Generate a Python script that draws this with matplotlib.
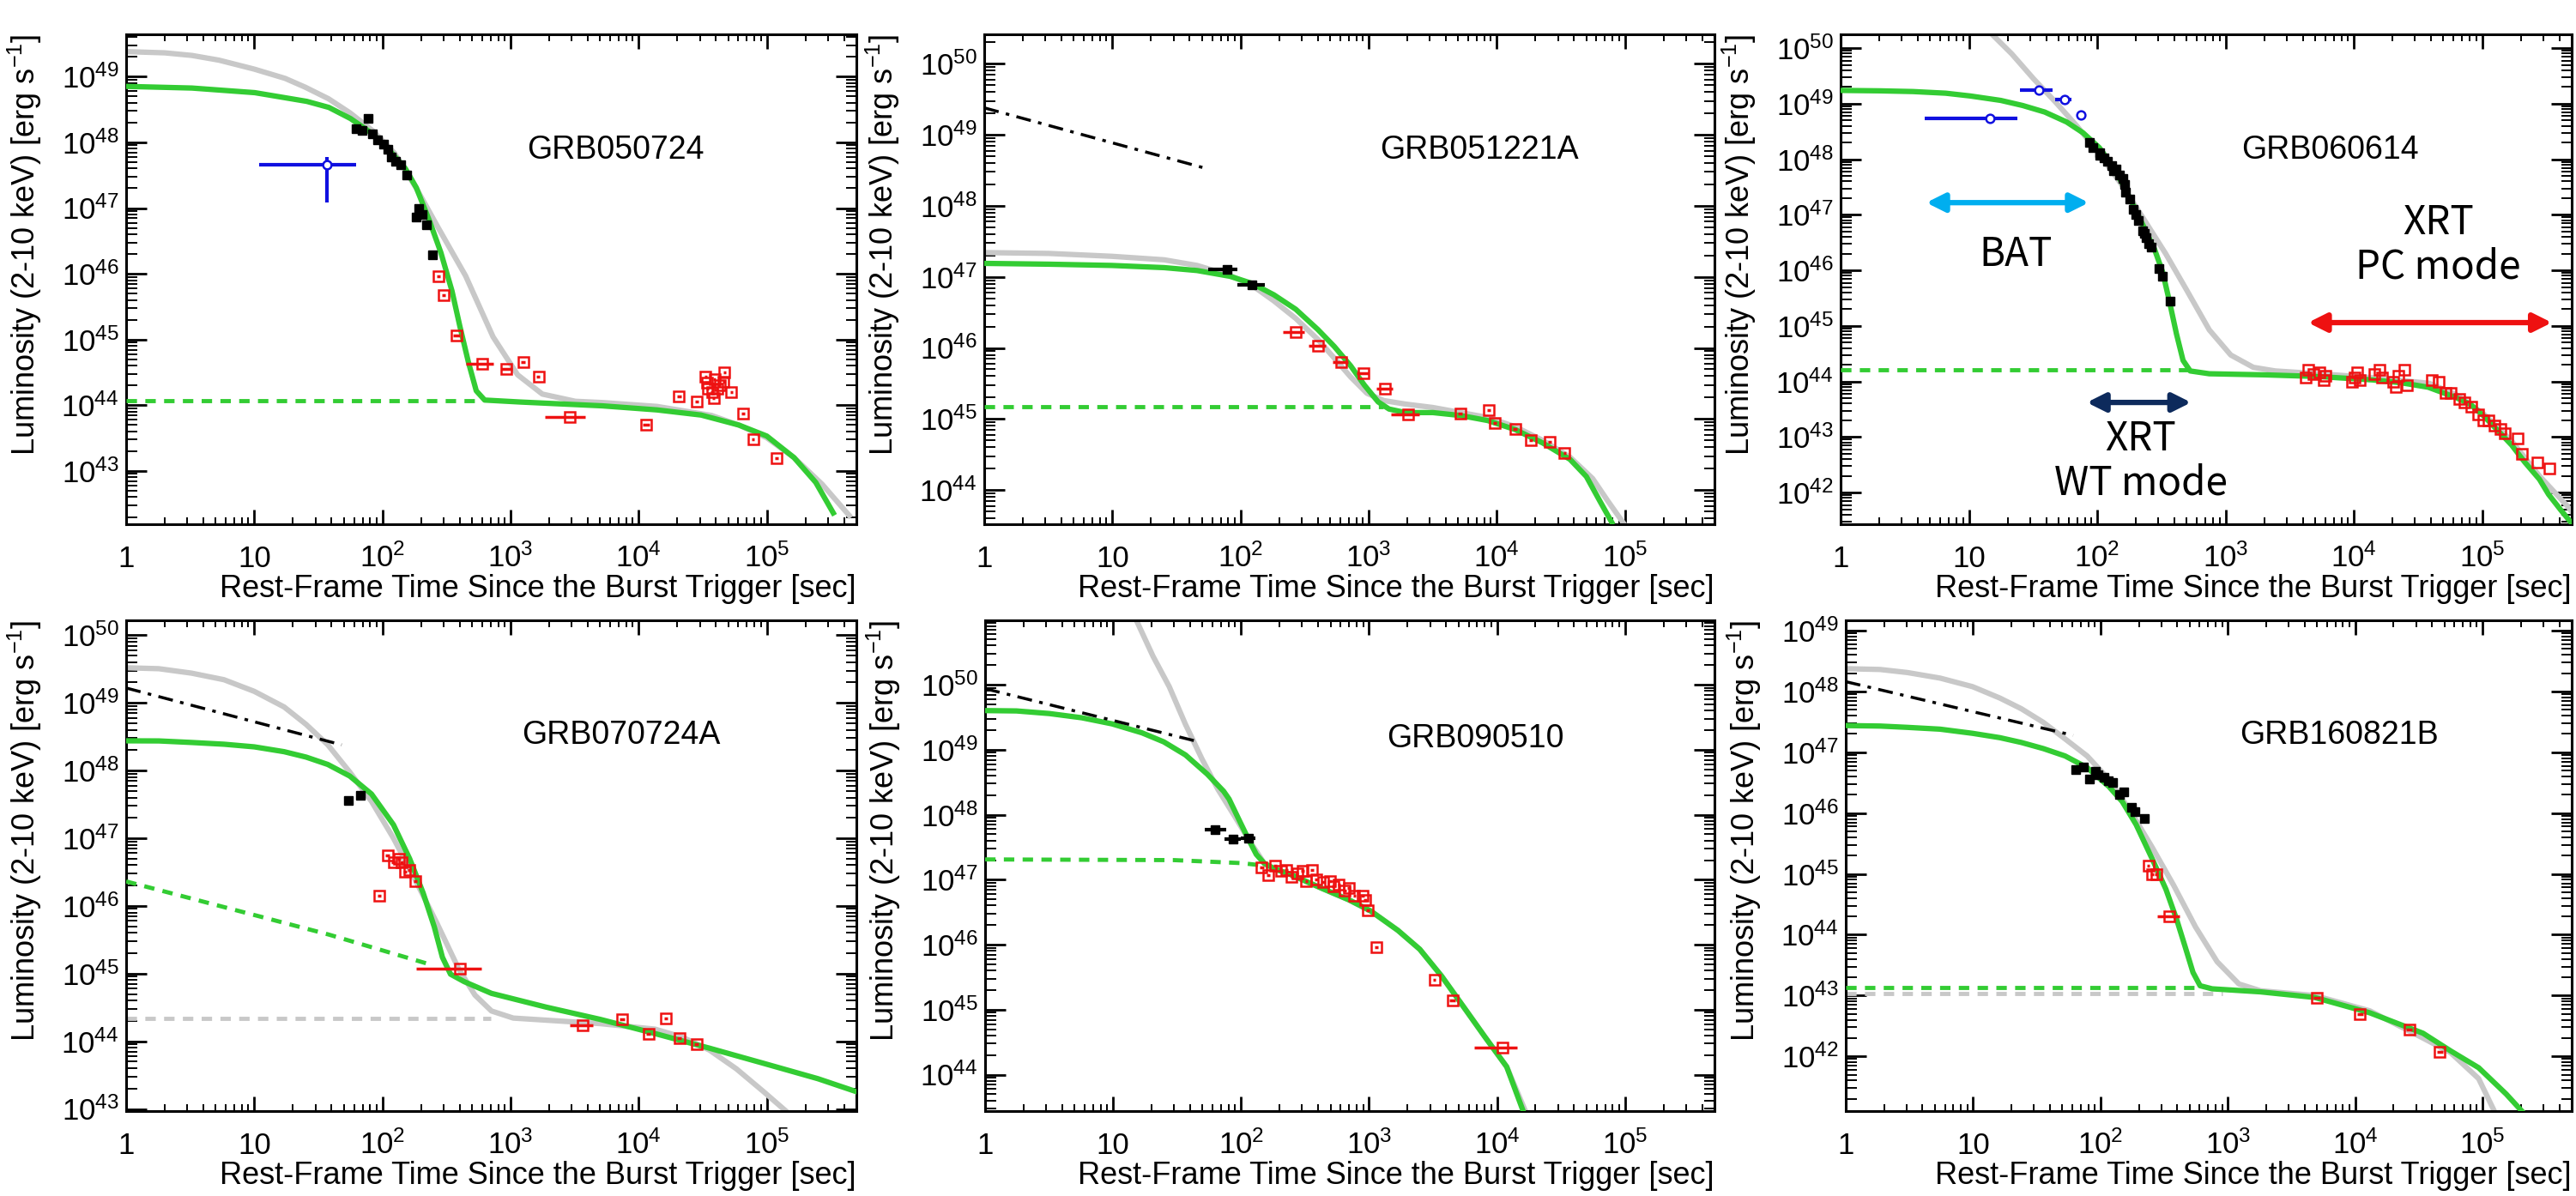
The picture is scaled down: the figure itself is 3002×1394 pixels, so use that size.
import matplotlib
matplotlib.use('Agg')
import matplotlib.pyplot as plt
from matplotlib.ticker import FixedLocator, LogLocator, NullFormatter

plt.rcParams['font.family'] = ['Liberation Sans', 'DejaVu Sans']
plt.rcParams['mathtext.default'] = 'regular'

GRAY = '#c8c8c8'
GREEN = '#33cc33'
RED = '#ee1111'
BLUE = '#1010e0'

x_ticks = [1, 10, 100, 1e3, 1e4, 1e5]
x_ticklabels = ['1', '10', '$10^{2}$', '$10^{3}$', '$10^{4}$', '$10^{5}$']

# ---------------- GRB050724 ----------------
p1_gray_t = [1, 2, 3.26, 5.3, 10, 17.4, 25, 38, 56, 84, 124, 184, 273, 446, 730, 1137, 1770, 3200, 5200, 1.39e4,
             3.7e4, 6.05e4, 1e5, 1.63e5, 2.7e5, 4.4e5]
p1_gray_L = [2.4e49, 2.3e49, 2.1e49, 1.78e49, 1.3e49, 9.4e48, 6.9e48, 4.6e48, 2.8e48, 1.5e48, 6.9e47, 2.0e47, 5.0e46,
             9.3e45, 1.1e45, 2.9e44, 1.48e44, 1.15e44, 1.1e44, 9.6e43, 7.0e43, 5.0e43, 3.2e43, 1.6e43, 6.3e42, 2.1e42]
p1_green_t = [1, 3.26, 10.1, 25.7, 38.2, 56.4, 84.1, 112, 151, 184, 235, 286, 349, 402, 468, 540, 628, 1194, 5200,
              1.39e4, 3.07e4, 6.05e4, 1e5, 1.63e5, 2.41e5, 3.3e5]
p1_green_L = [7.1e48, 6.7e48, 5.7e48, 4.2e48, 3.4e48, 2.3e48, 1.34e48, 7.8e47, 4.0e47, 2.04e47, 6.1e46, 2.1e46, 5.5e45,
              1.6e45, 4.6e44, 1.66e44, 1.2e44, 1.12e44, 9.8e43, 8.5e43, 7.1e43, 5.0e43, 3.4e43, 1.6e43, 6.7e42, 2.3e42]
p1_plateau_t = [1, 600]
p1_plateau_L = [1.17e44, 1.17e44]
p1_bat_t = [62, 69, 77, 84, 92, 102, 110, 118, 127, 140, 154, 184, 193, 203, 220, 247]
p1_bat_L = [1.6e48, 1.5e48, 2.3e48, 1.35e48, 1.1e48, 9.5e47, 7.8e47, 6.0e47, 5.2e47, 4.5e47, 3.2e47, 7.4e46, 9.8e46,
            7.9e46, 5.5e46, 1.95e46]
p1_blue_t = [37]
p1_blue_L = [4.5e47]
p1_blue_tlo = [10.9]
p1_blue_thi = [62]
p1_blue_Llo = [1.2e47]
p1_blue_Lhi = [6.0e47]
p1_red_t = [273, 301, 377, 600, 933, 1254, 1652, 2890, 1.15e4, 2.07e4, 2.84e4, 3.32e4, 3.4e4, 3.45e4, 3.74e4, 3.9e4,
            4.1e4, 3.85e4, 4.6e4, 4.67e4, 4.3e4, 5.3e4, 6.55e4, 7.8e4, 1.19e5]
p1_red_L = [9.3e45, 4.8e45, 1.15e45, 4.3e44, 3.6e44, 4.6e44, 2.7e44, 6.6e43, 5.0e43, 1.35e44, 1.15e44, 2.7e44, 2.2e44,
            1.8e44, 1.6e44, 2.5e44, 1.8e44, 1.3e44, 2.3e44, 3.2e44, 2.0e44, 1.6e44, 7.4e43, 3.0e43, 1.55e43]
p1_red_tlo = [265, 292, 355, 450, 840, 1200, 1600, 1850, 1.08e4, 2.0e4, 2.75e4, 3.25e4, 3.3e4, 3.35e4, 3.65e4, 3.8e4,
              4.0e4, 3.75e4, 4.5e4, 4.55e4, 4.2e4, 5.15e4, 6.35e4, 7.6e4, 1.16e5]
p1_red_thi = [281, 310, 400, 730, 1030, 1310, 1700, 3800, 1.22e4, 2.14e4, 2.93e4, 3.4e4, 3.5e4, 3.55e4, 3.83e4, 4.0e4,
              4.2e4, 3.95e4, 4.7e4, 4.8e4, 4.4e4, 5.45e4, 6.75e4, 8.0e4, 1.22e5]

# ---------------- GRB051221A ----------------
p2_gray_t = [1, 3.2, 9.9, 25.4, 45.8, 82.8, 123, 182, 270, 401, 539, 724, 970, 1306, 1940, 3175, 8510, 1.39e4, 2.28e4,
             3.73e4, 5.6e4, 7.4e4, 1.0e5]
p2_gray_L = [2.2e47, 2.14e47, 1.95e47, 1.74e47, 1.45e47, 1.05e47, 7.6e46, 4.6e46, 2.6e46, 1.32e46, 7.2e45, 3.9e45,
             2.3e45, 1.82e45, 1.62e45, 1.45e45, 1.05e45, 7.8e44, 5.0e44, 2.9e44, 1.45e44, 6.9e43, 3.2e43]
p2_green_t = [1, 3.2, 9.9, 25.4, 45.8, 82.8, 123, 182, 270, 401, 539, 724, 926, 1186, 1443, 1940, 3175, 5200, 8510,
              1.39e4, 2.28e4, 3.73e4, 5.0e4, 6.4e4, 7.9e4]
p2_green_L = [1.55e47, 1.51e47, 1.45e47, 1.35e47, 1.23e47, 1.02e47, 8.1e46, 5.6e46, 3.5e46, 1.82e46, 1.05e46, 5.6e45,
              3.0e45, 1.74e45, 1.38e45, 1.23e45, 1.23e45, 1.12e45, 9.5e44, 7.1e44, 4.6e44, 2.7e44, 1.55e44, 6.9e43,
              3.5e43]
p2_plateau_t = [1, 1300]
p2_plateau_L = [1.5e45, 1.5e45]
p2_ext_t = [1, 56]
p2_ext_L = [2.4e49, 3.3e48]
p2_bat_t = [78, 123]
p2_bat_L = [1.26e47, 7.8e46]
p2_bat_tlo = [56, 95]
p2_bat_thi = [94, 155]
p2_red_t = [270, 401, 607, 910, 1334, 2037, 5200, 8700, 9670, 1.39e4, 1.84e4, 2.57e4, 3.38e4]
p2_red_L = [1.66e46, 1.07e46, 6.3e45, 4.4e45, 2.7e45, 1.15e45, 1.2e45, 1.35e45, 8.7e44, 7.2e44, 5.0e44, 4.7e44, 3.3e44]
p2_red_tlo = [213, 340, 520, 810, 1150, 1500, 5000, 8400, 9300, 1.34e4, 1.78e4, 2.5e4, 3.3e4]
p2_red_thi = [317, 460, 690, 1000, 1550, 2500, 5400, 9000, 1.0e4, 1.44e4, 1.9e4, 2.65e4, 3.46e4]

# ---------------- GRB060614 ----------------
p3_gray_t = [15.3, 21.6, 32, 47.4, 70, 104, 155, 230, 342, 505, 748, 1100, 1650, 2450, 5370, 1.44e4, 3.87e4, 6.3e4,
             1.03e5, 1.7e5, 2.8e5, 4.6e5, 5.5e5]
p3_gray_L = [1.74e50, 7.9e49, 2.8e49, 1.07e49, 3.9e48, 1.26e48, 3.5e47, 8.5e46, 2.0e46, 4.2e45, 8.5e44, 3.0e44, 1.8e44,
             1.55e44, 1.38e44, 1.17e44, 9.3e43, 5.8e43, 2.6e43, 8.5e42, 2.0e42, 5.8e41, 3.5e41]
p3_green_t = [1, 2.03, 3.67, 6.6, 10.3, 17.7, 26.3, 39, 57.8, 77.6, 104, 127, 155, 188, 230, 280, 324, 368, 415, 467,
              531, 748, 2000, 5300, 1.4e4, 2.34e4, 3.8e4, 6.2e4, 8.1e4, 1.03e5, 1.3e5, 1.7e5, 2.16e5, 2.8e5, 3.3e5,
              4.1e5, 5e5]
p3_green_L = [1.74e49, 1.71e49, 1.66e49, 1.55e49, 1.38e49, 1.15e49, 9.3e48, 7.1e48, 4.7e48, 3.0e48, 1.62e48, 8.5e47,
              3.9e47, 1.62e47, 6.2e46, 2.4e46, 9.3e45, 2.6e45, 7.2e44, 2.4e44, 1.55e44, 1.38e44, 1.32e44, 1.23e44,
              1.07e44, 9.5e43, 7.9e43, 5.2e43, 3.9e43, 2.4e43, 1.38e43, 7.2e42, 3.5e42, 1.74e42, 9.3e41, 4.9e41,
              2.8e41]
p3_plateau_t = [1, 530]
p3_plateau_L = [1.6e44, 1.6e44]
p3_blue_t = [14.6, 35.3, 56, 74.7]
p3_blue_L = [5.5e48, 1.74e49, 1.2e49, 6.3e48]
p3_blue_tlo = [4.5, 25, 47, 71]
p3_blue_thi = [23.8, 45, 63, 78]
p3_blue_Llo = [5.5e48, 1.74e49, 1.2e49, 6.3e48]
p3_blue_Lhi = [5.5e48, 1.74e49, 1.2e49, 6.3e48]
p3_bat_t = [87.5, 93, 104, 113, 121, 129, 140, 150, 158, 167, 180, 192, 208, 225, 241, 253, 265, 302, 324, 368,
            104, 133, 163, 200, 232]
p3_bat_L = [2.0e48, 1.6e48, 1.3e48, 1.07e48, 9.3e47, 7.6e47, 6.8e47, 5.2e47, 4.6e47, 2.6e47, 1.9e47, 1.26e47, 7.9e46,
            5.2e46, 3.9e46, 3.0e46, 2.6e46, 1.07e46, 7.9e45, 2.8e45, 1.17e48, 6.2e47, 3.5e47, 1.0e47, 4.6e46]
p3_red_t = [4200, 4400, 4860, 5370, 5800, 6030, 9690, 1.02e4, 1.07e4, 1.12e4, 1.44e4, 1.58e4, 1.66e4, 2.03e4, 2.13e4,
            2.24e4, 2.47e4, 2.6e4, 4.04e4, 4.59e4, 5.17e4, 5.7e4, 6.6e4, 7.3e4, 8.3e4, 9.3e4, 1.03e5, 1.13e5, 1.25e5,
            1.4e5, 1.5e5, 1.9e5, 2.04e5, 2.7e5, 3.36e5]
p3_red_L = [1.17e44, 1.62e44, 1.38e44, 1.48e44, 1.07e44, 1.26e44, 1.0e44, 1.17e44, 1.48e44, 1.07e44, 1.38e44, 1.62e44,
            1.17e44, 1.0e44, 7.9e43, 1.26e44, 1.62e44, 8.5e43, 1.07e44, 1.0e44, 6.2e43, 6.2e43, 4.9e43, 4.2e43,
            3.5e43, 2.6e43, 2.0e43, 2.0e43, 1.62e43, 1.38e43, 1.17e43, 9.3e42, 4.9e42, 3.5e42, 2.7e42]

# ---------------- GRB070724A ----------------
p4_gray_t = [1, 1.8, 3.24, 5.8, 10, 17.1, 25.4, 37.5, 55.6, 82.2, 122, 180, 267, 394, 528, 710, 1050, 1890, 5040,
             1.34e4, 2.19e4, 3.57e4, 5.8e4, 9.5e4, 1.41e5]
p4_gray_L = [3.3e49, 3.2e49, 2.75e49, 2.2e49, 1.48e49, 8.7e48, 4.8e48, 2.4e48, 9.5e47, 3.5e47, 1.0e47, 2.45e46,
             5.5e45, 1.17e45, 4.8e44, 2.8e44, 2.2e44, 2.05e44, 1.82e44, 1.51e44, 1.15e44, 7.4e43, 3.9e43, 1.78e43,
             9.3e42]
p4_green_t = [1, 1.8, 3.24, 5.8, 10, 17.1, 25.4, 37.5, 55.6, 82.2, 122, 163, 208, 254, 294, 340, 435, 710, 1890, 5040,
              1.34e4, 3.57e4, 9.5e4, 2.5e5, 5e5]
p4_green_L = [2.75e48, 2.74e48, 2.6e48, 2.45e48, 2.24e48, 1.9e48, 1.58e48, 1.23e48, 8.3e47, 4.5e47, 1.58e47, 5.0e46,
              1.55e46, 4.9e45, 1.74e45, 9.8e44, 7.6e44, 5.1e44, 3.2e44, 2.1e44, 1.3e44, 7.9e43, 4.7e43, 2.8e43,
              1.8e43]
p4_plateau_t = [1, 37.6, 240]
p4_plateau_L = [2.3e46, 3.8e45, 1.35e45]
p4_grayplat_t = [1, 700]
p4_grayplat_L = [2.2e44, 2.2e44]
p4_ext_t = [1, 48]
p4_ext_L = [1.66e49, 2.4e48]
p4_bat_t = [54, 67.6]
p4_bat_L = [3.6e47, 4.3e47]
p4_red_t = [110, 122, 134, 141, 151, 163, 180, 95, 402, 3680, 7450, 1.19e4, 1.63e4, 2.08e4, 2.82e4]
p4_red_L = [5.6e46, 4.4e46, 5.0e46, 4.4e46, 3.2e46, 3.4e46, 2.3e46, 1.4e46, 1.17e45, 1.74e44, 2.1e44, 1.3e44, 2.2e44,
            1.1e44, 9.1e43]
p4_red_tlo = [106, 118, 130, 137, 146, 158, 174, 92, 184, 2900, 7100, 1.14e4, 1.57e4, 2.0e4, 2.72e4]
p4_red_thi = [114, 126, 138, 145, 156, 168, 186, 98, 594, 4400, 7800, 1.24e4, 1.69e4, 2.16e4, 2.92e4]

# ---------------- GRB090510 ----------------
p5_gray_t = [14.5, 20.5, 27.5, 36.8, 49.5, 66, 89, 119, 152, 185, 237, 425, 695, 1030, 1680, 2490, 3680, 5450, 8050,
             1.19e4, 1.7e4]
p5_gray_L = [1.2e51, 2.75e50, 9.3e49, 2.45e49, 7.2e48, 2.45e48, 9.5e47, 3.7e47, 1.78e47, 1.45e47, 1.23e47, 7.4e46,
             4.9e46, 3.3e46, 1.66e46, 8.5e45, 3.3e45, 1.12e45, 3.8e44, 1.32e44, 2.5e43]
p5_green_t = [1, 1.76, 3.18, 5.7, 9.8, 16.8, 24.9, 36.8, 54.5, 73, 80.6, 98, 113.5, 131.5, 152, 185, 237, 425, 695,
              1030, 1680, 2490, 3680, 5450, 8050, 1.19e4, 1.6e4]
p5_green_L = [4.0e49, 3.95e49, 3.6e49, 3.1e49, 2.5e49, 1.82e49, 1.32e49, 8.3e48, 4.2e48, 2.3e48, 1.74e48, 7.8e47,
              4.3e47, 2.45e47, 1.78e47, 1.45e47, 1.23e47, 7.4e46, 4.9e46, 3.3e46, 1.66e46, 8.5e45, 3.3e45, 1.12e45,
              3.8e44, 1.32e44, 2.75e43]
p5_plateau_t = [1, 30, 100, 150]
p5_plateau_L = [2.05e47, 2.0e47, 1.8e47, 1.65e47]
p5_ext_t = [1, 47]
p5_ext_L = [8.7e49, 1.32e49]
p5_bat_t = [63, 87, 113.5]
p5_bat_L = [5.8e47, 4.2e47, 4.4e47]
p5_bat_tlo = [52, 74, 100]
p5_bat_thi = [76, 100, 130]
p5_red_t = [145, 163, 185, 205, 225, 249, 274, 303, 324, 357, 386, 439, 494, 529, 583, 644, 697, 768, 889, 933, 980,
            1135, 3240, 4480, 1.11e4]
p5_red_L = [1.55e47, 1.17e47, 1.66e47, 1.35e47, 1.41e47, 1.1e47, 1.26e47, 1.38e47, 9.5e46, 1.41e47, 1.02e47, 9.1e46,
            9.5e46, 7.9e46, 8.5e46, 6.9e46, 7.4e46, 5.6e46, 5.6e46, 4.9e46, 3.4e46, 9.1e45, 2.9e45, 1.38e45, 2.6e44]
p5_red_tlo = [140, 158, 180, 199, 219, 242, 266, 294, 315, 347, 375, 427, 480, 514, 567, 626, 678, 747, 864, 907, 953,
              1100, 3150, 4250, 6600]
p5_red_thi = [150, 168, 190, 211, 231, 256, 282, 312, 333, 367, 397, 451, 508, 544, 599, 662, 716, 789, 914, 959,
              1007, 1170, 3330, 4720, 1.43e4]

# ---------------- GRB160821B ----------------
p6_gray_t = [1, 1.86, 3.04, 5.5, 9.9, 16.2, 23.9, 35.6, 52.7, 78.5, 116, 172, 254, 375, 556, 823, 1220, 1800, 4800,
             1.3e4, 3.4e4, 5.6e4, 9.3e4, 1.24e5]
p6_gray_L = [2.37e48, 2.3e48, 2.05e48, 1.66e48, 1.2e48, 7.8e47, 5.2e47, 3.1e47, 1.66e47, 8.7e46, 3.6e46, 1.07e46,
             2.75e45, 6.5e44, 1.35e44, 3.6e43, 1.55e43, 1.2e43, 1.0e43, 5.6e42, 2.0e42, 1.15e42, 4.3e41, 1.23e41]
p6_green_t = [1, 1.86, 3.04, 5.5, 9.9, 16.2, 23.9, 35.6, 52.7, 78.5, 116, 148, 190, 254, 326, 396, 460, 532, 605, 752,
              1800, 4800, 1.3e4, 3.4e4, 5.6e4, 9.3e4, 1.53e5, 2.05e5]
p6_green_L = [2.75e47, 2.7e47, 2.57e47, 2.4e47, 2.05e47, 1.74e47, 1.45e47, 1.15e47, 8.7e46, 5.6e46, 2.75e46, 1.55e46,
              6.5e45, 1.78e45, 5.6e44, 1.78e44, 6.5e43, 2.4e43, 1.45e43, 1.29e43, 1.15e43, 9.3e42, 5.2e42, 2.4e42,
              1.23e42, 6.5e41, 2.4e41, 1.23e41]
p6_plateau_t = [1, 600]
p6_plateau_L = [1.35e43, 1.35e43]
p6_grayplat_t = [1, 900]
p6_grayplat_L = [1.07e43, 1.07e43]
p6_ext_t = [1, 61]
p6_ext_L = [1.45e48, 1.9e47]
p6_bat_t = [64, 73, 82, 90.6, 95, 107, 116, 125, 141, 153, 175, 186, 220]
p6_bat_L = [5.2e46, 5.8e46, 3.6e46, 4.9e46, 4.3e46, 3.9e46, 3.4e46, 3.2e46, 2.0e46, 2.2e46, 1.23e46, 1.07e46, 8.1e45]
p6_red_t = [238, 255, 275, 349, 5020, 1.09e4, 2.65e4, 4.6e4]
p6_red_L = [1.35e45, 1.0e45, 1.0e45, 2.0e44, 9.3e42, 4.9e42, 2.75e42, 1.2e42]
p6_red_tlo = [232, 248, 268, 280, 4700, 1.03e4, 2.5e4, 4.35e4]
p6_red_thi = [244, 262, 282, 415, 5350, 1.15e4, 2.8e4, 4.85e4]

panels = [
    dict(name='GRB050724', rect=(147, 40, 998, 611), ylim=(1.55e42, 4.4e49), tpos=(0.67, 0.764),
         gray=(p1_gray_t, p1_gray_L), green=(p1_green_t, p1_green_L), plat=(p1_plateau_t, p1_plateau_L),
         bat=(p1_bat_t, p1_bat_L), red=(p1_red_t, p1_red_L, p1_red_tlo, p1_red_thi),
         blue=(p1_blue_t, p1_blue_L, p1_blue_tlo, p1_blue_thi, p1_blue_Llo, p1_blue_Lhi)),
    dict(name='GRB051221A', rect=(1147, 40, 1998, 611), ylim=(3.3e43, 2.6e50), tpos=(0.678, 0.764),
         gray=(p2_gray_t, p2_gray_L), green=(p2_green_t, p2_green_L), plat=(p2_plateau_t, p2_plateau_L),
         ext=(p2_ext_t, p2_ext_L), bat=(p2_bat_t, p2_bat_L, p2_bat_tlo, p2_bat_thi),
         red=(p2_red_t, p2_red_L, p2_red_tlo, p2_red_thi)),
    dict(name='GRB060614', rect=(2145, 40, 2997, 611), ylim=(2.7e41, 1.78e50), tpos=(0.67, 0.764),
         gray=(p3_gray_t, p3_gray_L), green=(p3_green_t, p3_green_L), plat=(p3_plateau_t, p3_plateau_L),
         bat=(p3_bat_t, p3_bat_L), red=(p3_red_t, p3_red_L),
         blue=(p3_blue_t, p3_blue_L, p3_blue_tlo, p3_blue_thi, p3_blue_Llo, p3_blue_Lhi)),
    dict(name='GRB070724A', rect=(147, 723, 998, 1295), ylim=(9.3e42, 1.66e50), tpos=(0.678, 0.766),
         gray=(p4_gray_t, p4_gray_L), grayplat=(p4_grayplat_t, p4_grayplat_L), green=(p4_green_t, p4_green_L),
         plat=(p4_plateau_t, p4_plateau_L), ext=(p4_ext_t, p4_ext_L), bat=(p4_bat_t, p4_bat_L),
         red=(p4_red_t, p4_red_L, p4_red_tlo, p4_red_thi)),
    dict(name='GRB090510', rect=(1148, 723, 1998, 1295), ylim=(2.75e43, 9.8e50), tpos=(0.672, 0.758),
         gray=(p5_gray_t, p5_gray_L), green=(p5_green_t, p5_green_L), plat=(p5_plateau_t, p5_plateau_L),
         ext=(p5_ext_t, p5_ext_L), bat=(p5_bat_t, p5_bat_L, p5_bat_tlo, p5_bat_thi),
         red=(p5_red_t, p5_red_L, p5_red_tlo, p5_red_thi)),
    dict(name='GRB160821B', rect=(2151, 723, 2997, 1295), ylim=(1.26e41, 1.48e49), tpos=(0.68, 0.766),
         gray=(p6_gray_t, p6_gray_L), grayplat=(p6_grayplat_t, p6_grayplat_L), green=(p6_green_t, p6_green_L),
         plat=(p6_plateau_t, p6_plateau_L), ext=(p6_ext_t, p6_ext_L), bat=(p6_bat_t, p6_bat_L),
         red=(p6_red_t, p6_red_L, p6_red_tlo, p6_red_thi)),
]

W, H = 3002, 1394
fig = plt.figure(figsize=(W / 100, H / 100), dpi=100)


def xerr_of(t, lo, hi):
    return [[a - b for a, b in zip(t, lo)], [b - a for a, b in zip(t, hi)]]


def draw_panel(p):
    l, t, r, b = p['rect']
    ax = fig.add_axes([l / W, 1 - b / H, (r - l) / W, (b - t) / H])
    ax.set_xscale('log')
    ax.set_yscale('log')

    ax.plot(*p['gray'], color=GRAY, lw=4.5, zorder=2, solid_joinstyle='round')
    if 'grayplat' in p:
        ax.plot(*p['grayplat'], color=GRAY, lw=3.5, ls=(0, (2.5, 2)), zorder=2)
    ax.plot(*p['plat'], color=GREEN, lw=3.5, ls=(0, (2.5, 2)), zorder=3)
    ax.plot(*p['green'], color=GREEN, lw=4.5, zorder=3, solid_joinstyle='round')
    if 'ext' in p:
        ax.plot(*p['ext'], color='black', lw=2.5, ls=(0, (5, 2.5, 1.2, 2.5)), zorder=4)

    bat = p['bat']
    if len(bat) == 4:
        ax.errorbar(bat[0], bat[1], xerr=xerr_of(bat[0], bat[2], bat[3]), fmt='s', color='black',
                    ms=7, elinewidth=3, capsize=0, zorder=5)
    else:
        ax.plot(bat[0], bat[1], 's', color='black', ms=7, zorder=5)

    red = p['red']
    if len(red) == 4:
        ax.errorbar(red[0], red[1], xerr=xerr_of(red[0], red[2], red[3]), fmt='s', mfc='none', mec=RED,
                    ecolor=RED, ms=8, mew=1.8, elinewidth=2.5, capsize=0, zorder=6)
    else:
        ax.plot(red[0], red[1], 's', mfc='none', mec=RED, ms=8, mew=1.8, zorder=6)

    if 'blue' in p:
        bt, bL, tlo, thi, Llo, Lhi = p['blue']
        yerr = [[a - b for a, b in zip(bL, Llo)], [b - a for a, b in zip(bL, Lhi)]]
        ax.errorbar(bt, bL, xerr=xerr_of(bt, tlo, thi), yerr=yerr, fmt='o', mfc='white', mec=BLUE,
                    ecolor=BLUE, ms=7, mew=1.8, elinewidth=3, capsize=0, zorder=6)

    ax.set_xlim(1, 5e5)
    ax.set_ylim(*p['ylim'])
    ax.xaxis.set_major_locator(FixedLocator(x_ticks))
    ax.set_xticklabels(x_ticklabels)
    ax.xaxis.set_minor_locator(LogLocator(base=10, subs=range(2, 10), numticks=100))
    ax.xaxis.set_minor_formatter(NullFormatter())
    ax.yaxis.set_major_locator(LogLocator(base=10, numticks=100))
    ax.yaxis.set_minor_locator(LogLocator(base=10, subs=range(2, 10), numticks=100))
    ax.yaxis.set_minor_formatter(NullFormatter())

    ax.tick_params(which='both', direction='in', top=True, right=True, labelsize=25)
    ax.tick_params(axis='y', which='major', length=17, width=2, pad=6)
    ax.tick_params(axis='y', which='minor', length=9, width=1.4)
    ax.tick_params(axis='x', which='major', length=12, width=2, pad=36)
    ax.tick_params(axis='x', which='minor', length=6, width=1.4)
    for lab in ax.get_xticklabels():
        lab.set_va('baseline')
    for s in ax.spines.values():
        s.set_linewidth(2.2)

    ax.set_xlabel('Rest-Frame Time Since the Burst Trigger [sec]', loc='right', fontsize=26, labelpad=1)
    ax.set_ylabel('Luminosity (2-10 keV) [erg s$^{-1}$]', loc='top', fontsize=26)
    ax.yaxis.set_label_coords(-0.113, 1.0)
    ax.text(p['tpos'][0], p['tpos'][1], p['name'], transform=ax.transAxes, ha='center', va='center', fontsize=27)
    return ax


axes = [draw_panel(p) for p in panels]

# instrument annotations on GRB060614
ax3 = axes[2]
cjk = ['Noto Sans CJK JP', 'DejaVu Sans']
arrow_kw = dict(arrowstyle='<|-|>', lw=4.5, mutation_scale=32, shrinkA=0, shrinkB=0)
ax3.annotate('', xy=(86, 1.66e47), xytext=(4.65, 1.66e47), arrowprops=dict(color='#00aeef', **arrow_kw), zorder=7)
ax3.annotate('', xy=(3.5e5, 1.15e45), xytext=(4400, 1.15e45), arrowprops=dict(color='#ee1111', **arrow_kw), zorder=7)
ax3.annotate('', xy=(540, 4.2e43), xytext=(83, 4.2e43), arrowprops=dict(color='#0d2a5c', **arrow_kw), zorder=7)
ax3.text(23.3, 1.9e46, 'BAT', family=cjk, fontsize=33, ha='center', va='center')
ax3.text(4.57e4, 7.2e46, 'XRT', family=cjk, fontsize=33, ha='center', va='center')
ax3.text(4.57e4, 1.15e46, 'PC mode', family=cjk, fontsize=33, ha='center', va='center')
ax3.text(218, 9.3e42, 'XRT', family=cjk, fontsize=33, ha='center', va='center')
ax3.text(218, 1.48e42, 'WT mode', family=cjk, fontsize=33, ha='center', va='center')

fig.savefig('out.png', dpi=100)
